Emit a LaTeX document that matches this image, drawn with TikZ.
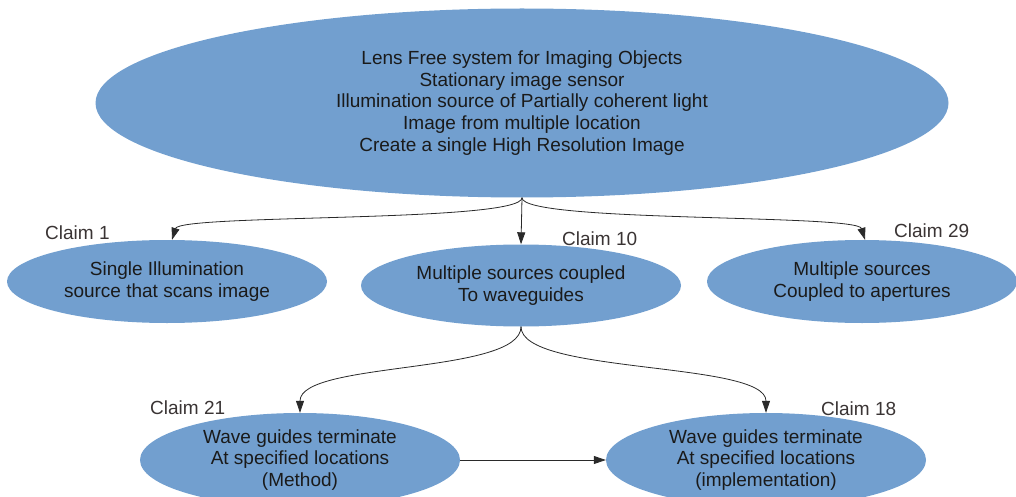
\documentclass[tikz,border=0pt]{standalone}
\usepackage{fontspec}
\setmainfont{Liberation Sans}
\usetikzlibrary{arrows.meta,shapes.geometric}
\definecolor{ellfill}{HTML}{729FCF}
\definecolor{txt}{HTML}{1A1A1A}
\definecolor{clm}{HTML}{3A3434}
\definecolor{lnc}{HTML}{2A2A2A}
\begin{document}
\begin{tikzpicture}[x=1pt,y=-1pt,
  blob/.style={ellipse,fill=ellfill,draw=none,inner sep=0pt,align=center,text=txt,
    font=\fontsize{19}{21.7}\selectfont},
  claim/.style={anchor=west,inner sep=0pt,text=clm,font=\fontsize{19}{21.7}\selectfont},
  conn/.style={draw=lnc,line width=0.8pt,-{Triangle[length=12pt,width=8pt]}}]
\useasboundingbox (0,0) rectangle (1016,497);
\begin{scope}
\clip (0,0) rectangle (1016,497);
\node[blob,minimum width=853,minimum height=189] (top) at (522,103)
  {Lens Free system for Imaging Objects\\Stationary image sensor\\Illumination source of Partially coherent light\\Image from multiple location\\Create a single High Resolution Image};
\node[blob,minimum width=320,minimum height=83] (l) at (167,281.5)
  {Single Illumination\\source that scans image};
\node[blob,minimum width=320,minimum height=82] (m) at (521,285.5)
  {Multiple sources coupled\\To waveguides};
\node[blob,minimum width=310,minimum height=83] (r) at (862,281.5)
  {Multiple sources\\Coupled to apertures};
\node[blob,minimum width=320,minimum height=94] (bl) at (300,460)
  {Wave guides terminate\\At specified locations\\(Method)};
\node[blob,minimum width=320,minimum height=94] (br) at (766,460)
  {Wave guides terminate\\At specified locations\\(implementation)};
\end{scope}
\node[claim] (c1) at (45,233) {Claim 1};
\node[claim] (c10) at (562,239) {Claim 10};
\node[claim] (c29) at (894,231) {Claim 29};
\node[claim] (c21) at (150,408) {Claim 21};
\node[claim] (c18) at (821,409) {Claim 18};
\draw[conn] (top.south) .. controls +(0,25) and +(8,-26) .. ([xshift=5pt]l.north);
\draw[conn] (top.south) -- (m.north);
\draw[conn] (top.south) .. controls +(0,25) and +(-8,-26) .. ([xshift=3pt]r.north);
\draw[conn] (m.south) .. controls +(0,48) and +(0,-52) .. (bl.north);
\draw[conn] (m.south) .. controls +(0,48) and +(0,-52) .. (br.north);
\draw[conn] (bl.east) -- (br.west);
\end{tikzpicture}
\end{document}
